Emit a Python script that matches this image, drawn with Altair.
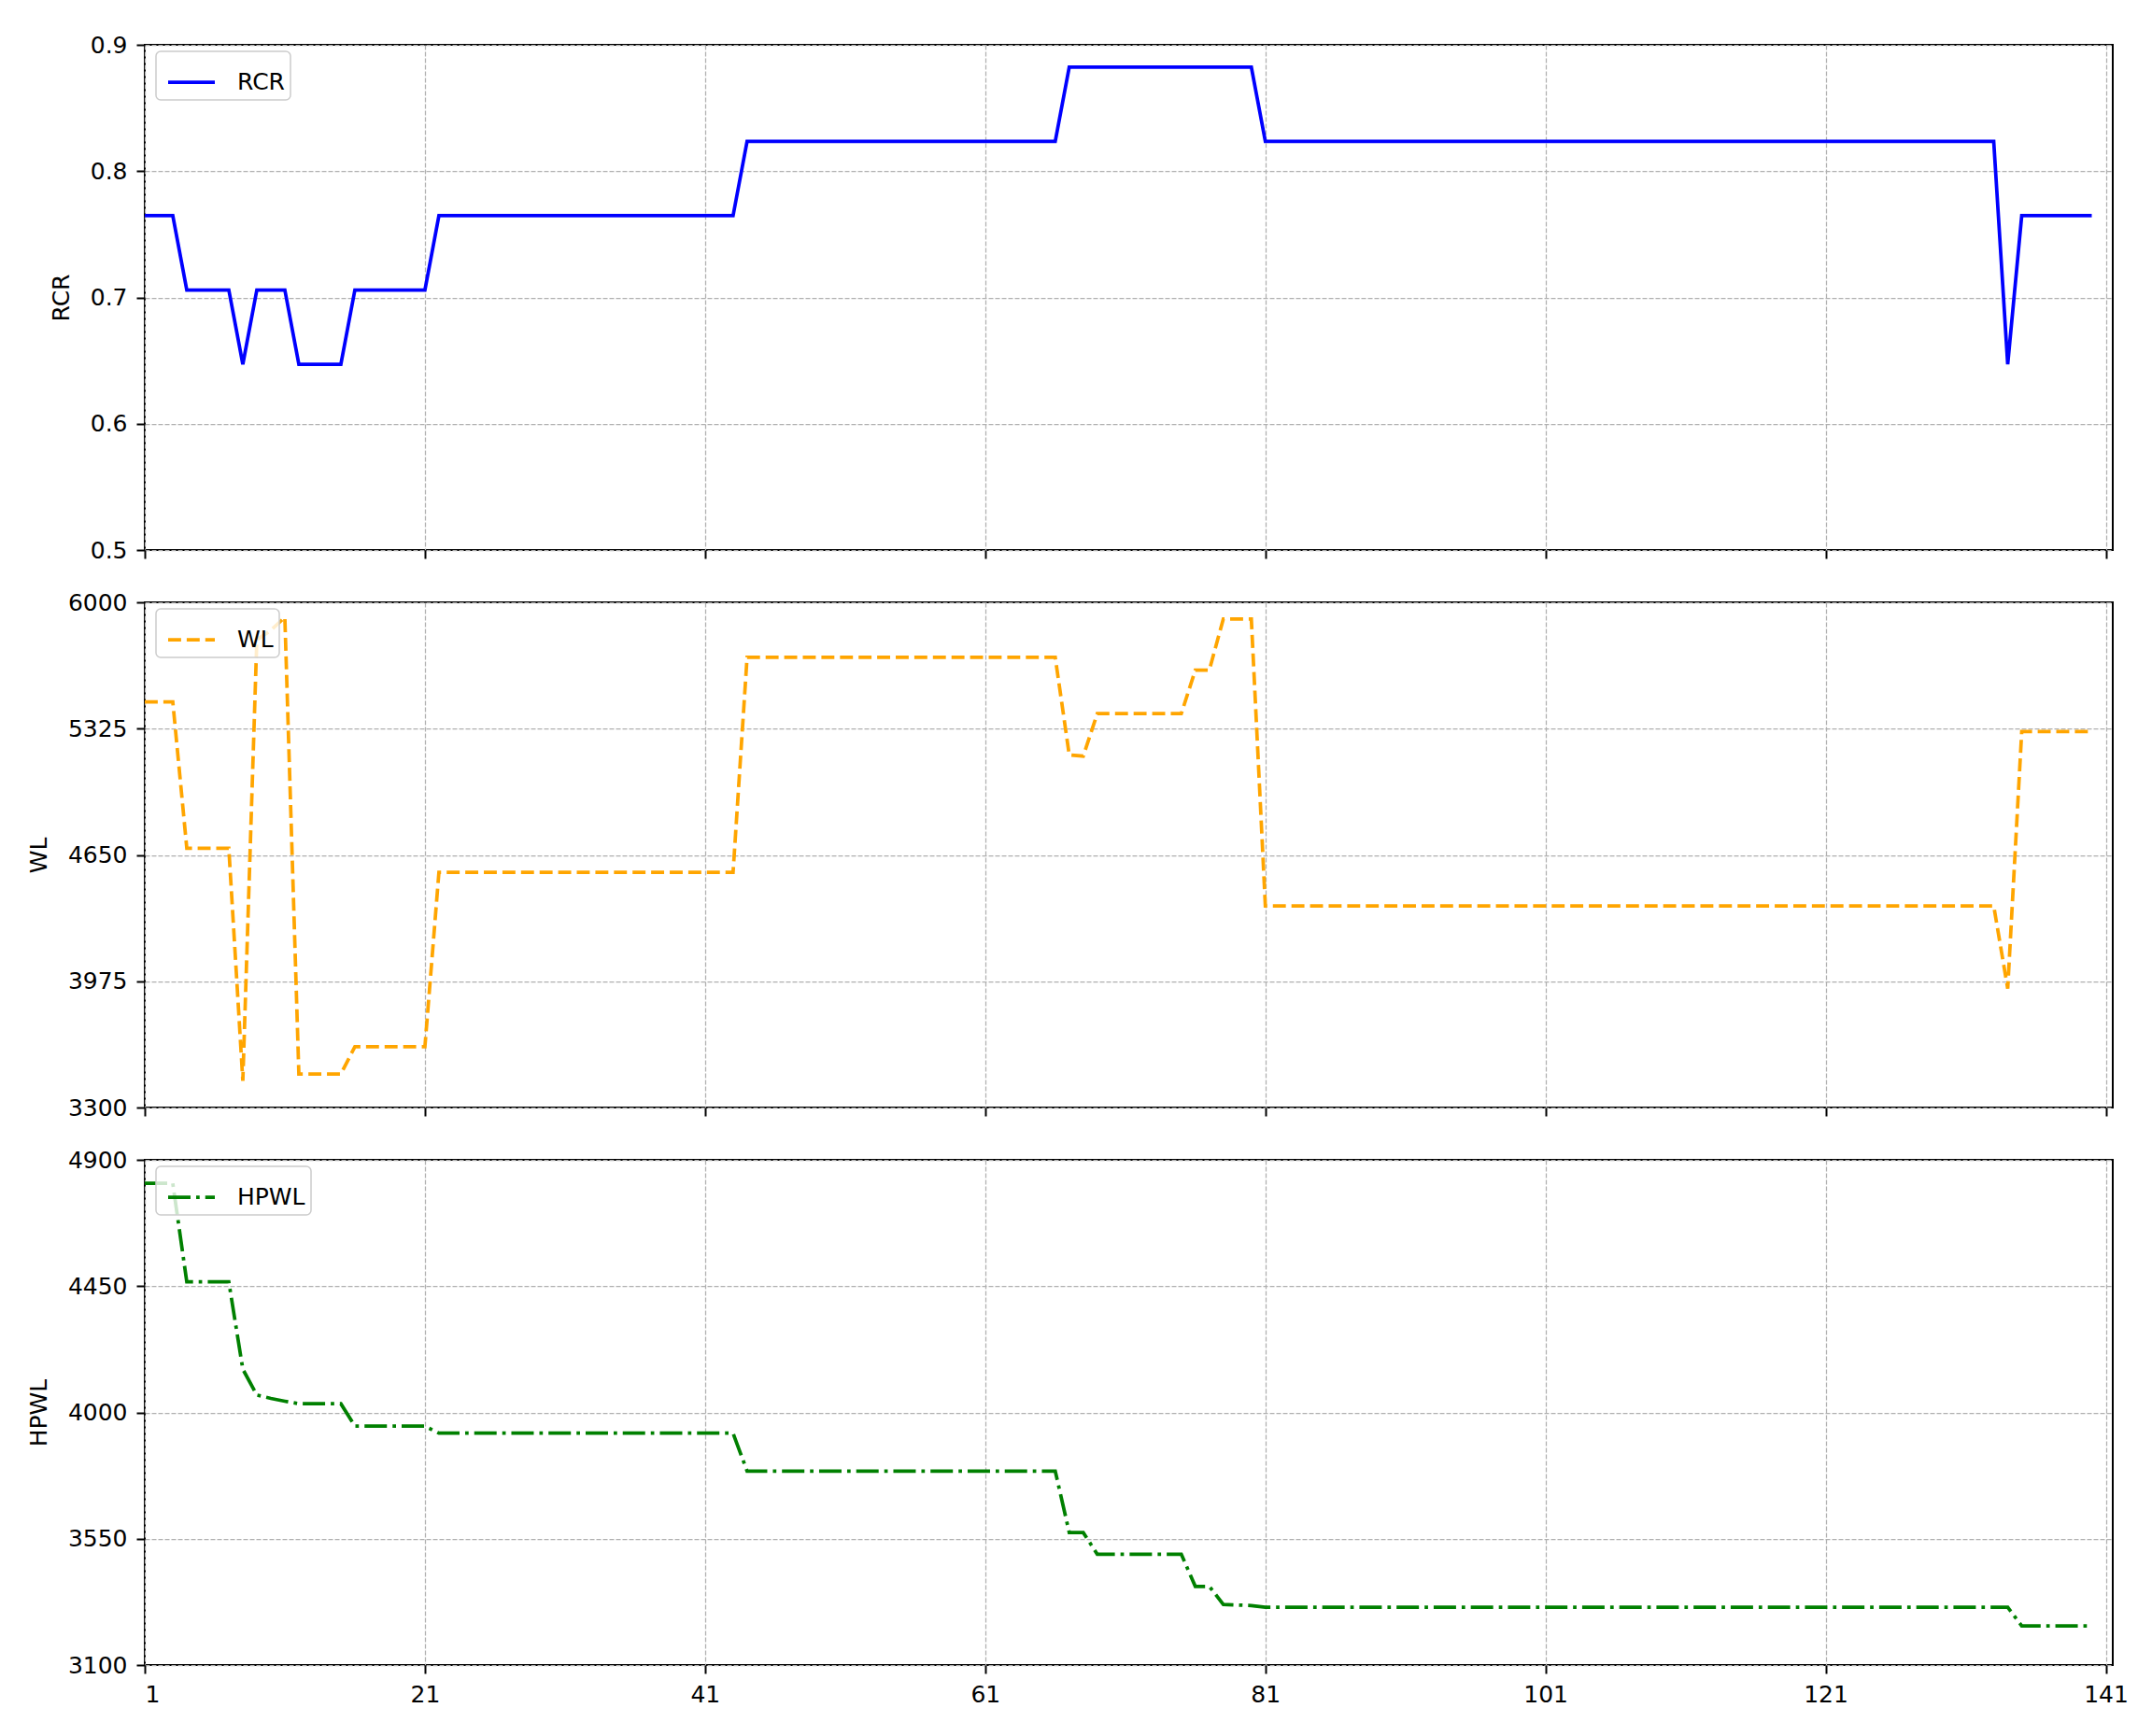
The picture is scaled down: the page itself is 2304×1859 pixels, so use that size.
import altair as alt
import pandas as pd

FONT = "DejaVu Sans"

# iteration index (x)
iters = list(range(1, 141))

# RCR series
rcr = [
    0.7647, 0.7647, 0.7647, 0.7059, 0.7059, 0.7059, 0.7059, 0.6471, 0.7059, 0.7059,
    0.7059, 0.6471, 0.6471, 0.6471, 0.6471, 0.7059, 0.7059, 0.7059, 0.7059, 0.7059,
    0.7059, 0.7647, 0.7647, 0.7647, 0.7647, 0.7647, 0.7647, 0.7647, 0.7647, 0.7647,
    0.7647, 0.7647, 0.7647, 0.7647, 0.7647, 0.7647, 0.7647, 0.7647, 0.7647, 0.7647,
    0.7647, 0.7647, 0.7647, 0.8235, 0.8235, 0.8235, 0.8235, 0.8235, 0.8235, 0.8235,
    0.8235, 0.8235, 0.8235, 0.8235, 0.8235, 0.8235, 0.8235, 0.8235, 0.8235, 0.8235,
    0.8235, 0.8235, 0.8235, 0.8235, 0.8235, 0.8235, 0.8824, 0.8824, 0.8824, 0.8824,
    0.8824, 0.8824, 0.8824, 0.8824, 0.8824, 0.8824, 0.8824, 0.8824, 0.8824, 0.8824,
    0.8235, 0.8235, 0.8235, 0.8235, 0.8235, 0.8235, 0.8235, 0.8235, 0.8235, 0.8235,
    0.8235, 0.8235, 0.8235, 0.8235, 0.8235, 0.8235, 0.8235, 0.8235, 0.8235, 0.8235,
    0.8235, 0.8235, 0.8235, 0.8235, 0.8235, 0.8235, 0.8235, 0.8235, 0.8235, 0.8235,
    0.8235, 0.8235, 0.8235, 0.8235, 0.8235, 0.8235, 0.8235, 0.8235, 0.8235, 0.8235,
    0.8235, 0.8235, 0.8235, 0.8235, 0.8235, 0.8235, 0.8235, 0.8235, 0.8235, 0.8235,
    0.8235, 0.8235, 0.8235, 0.6471, 0.7647, 0.7647, 0.7647, 0.7647, 0.7647, 0.7647,
]

# WL series
wl = [
    5468, 5468, 5468, 4686, 4686, 4686, 4686, 3443, 5800, 5850,
    5920, 3479, 3479, 3479, 3479, 3625, 3625, 3625, 3625, 3625,
    3625, 4557, 4557, 4557, 4557, 4557, 4557, 4557, 4557, 4557,
    4557, 4557, 4557, 4557, 4557, 4557, 4557, 4557, 4557, 4557,
    4557, 4557, 4557, 5706, 5706, 5706, 5706, 5706, 5706, 5706,
    5706, 5706, 5706, 5706, 5706, 5706, 5706, 5706, 5706, 5706,
    5706, 5706, 5706, 5706, 5706, 5706, 5185, 5178, 5405, 5405,
    5405, 5405, 5405, 5405, 5405, 5638, 5638, 5911, 5911, 5911,
    4378, 4378, 4378, 4378, 4378, 4378, 4378, 4378, 4378, 4378,
    4378, 4378, 4378, 4378, 4378, 4378, 4378, 4378, 4378, 4378,
    4378, 4378, 4378, 4378, 4378, 4378, 4378, 4378, 4378, 4378,
    4378, 4378, 4378, 4378, 4378, 4378, 4378, 4378, 4378, 4378,
    4378, 4378, 4378, 4378, 4378, 4378, 4378, 4378, 4378, 4378,
    4378, 4378, 4378, 3936, 5309, 5309, 5309, 5309, 5309, 5309,
]

# HPWL series
hpwl = [
    4816, 4816, 4816, 4465, 4465, 4465, 4465, 4154, 4062, 4050,
    4040, 4031, 4031, 4031, 4031, 3951, 3951, 3951, 3951, 3951,
    3951, 3926, 3926, 3926, 3926, 3926, 3926, 3926, 3926, 3926,
    3926, 3926, 3926, 3926, 3926, 3926, 3926, 3926, 3926, 3926,
    3926, 3926, 3926, 3791, 3791, 3791, 3791, 3791, 3791, 3791,
    3791, 3791, 3791, 3791, 3791, 3791, 3791, 3791, 3791, 3791,
    3791, 3791, 3791, 3791, 3791, 3791, 3572, 3572, 3495, 3495,
    3495, 3495, 3495, 3495, 3495, 3380, 3380, 3316, 3314, 3312,
    3306, 3306, 3306, 3306, 3306, 3306, 3306, 3306, 3306, 3306,
    3306, 3306, 3306, 3306, 3306, 3306, 3306, 3306, 3306, 3306,
    3306, 3306, 3306, 3306, 3306, 3306, 3306, 3306, 3306, 3306,
    3306, 3306, 3306, 3306, 3306, 3306, 3306, 3306, 3306, 3306,
    3306, 3306, 3306, 3306, 3306, 3306, 3306, 3306, 3306, 3306,
    3306, 3306, 3306, 3306, 3239, 3239, 3239, 3239, 3239, 3239,
]

x_ticks = [1, 21, 41, 61, 81, 101, 121, 141]
rcr_ticks = [0.5, 0.6, 0.7, 0.8, 0.9]
wl_ticks = [3300, 3975, 4650, 5325, 6000]
hpwl_ticks = [3100, 3550, 4000, 4450, 4900]

W, H = 2107, 541
LW = 3.75


def panel(values, name, color, dash, ydomain, yticks, yfmt, show_x_labels):
    df = pd.DataFrame({"iter": iters, "val": values, "series": [name] * len(iters)})
    mark_kwargs = dict(strokeWidth=LW, clip=True)
    legend_kwargs = dict(
        title=None, orient="none", legendX=12, legendY=7,
        symbolType="stroke", symbolSize=2500, symbolStrokeWidth=LW,
        symbolStrokeColor=color, symbolOffset=5,
        labelExpr="datum.label + '  '",
    )
    if dash:
        mark_kwargs["strokeDash"] = dash
        legend_kwargs["symbolDash"] = dash
    return alt.Chart(df).mark_line(**mark_kwargs).encode(
        x=alt.X(
            "iter:Q",
            scale=alt.Scale(domain=[1, 141.5], nice=False, zero=False),
            axis=alt.Axis(values=x_ticks, labels=show_x_labels, title=None, grid=True),
        ),
        y=alt.Y(
            "val:Q",
            scale=alt.Scale(domain=ydomain, nice=False, zero=False),
            axis=alt.Axis(values=yticks, format=yfmt, title=name, grid=True),
        ),
        color=alt.Color(
            "series:N",
            scale=alt.Scale(domain=[name], range=[color]),
            legend=alt.Legend(**legend_kwargs),
        ),
    ).properties(width=W, height=H)


p1 = panel(rcr, "RCR", "#0000ff", None, [0.5, 0.9], rcr_ticks, ".1f", False)
p2 = panel(wl, "WL", "#ffa500", [13.9, 6.0], [3300, 6000], wl_ticks, "d", False)
p3 = panel(hpwl, "HPWL", "#008000", [24.0, 6.0, 3.75, 6.0], [3100, 4900], hpwl_ticks, "d", True)

chart = (
    alt.vconcat(p1, p2, p3, spacing=56, bounds="flush")
    .resolve_scale(color="independent", y="independent")
    .resolve_legend(color="independent")
    .properties(padding={"left": 20, "top": 27, "right": 4, "bottom": 8}, background="white")
    .configure_view(stroke="black", strokeWidth=2)
    .configure_axis(
        labelFont=FONT, labelFontSize=25, labelColor="black",
        titleFont=FONT, titleFontSize=25, titleFontWeight="normal", titleColor="black",
        tickColor="black", tickWidth=2, tickSize=9, domain=False,
        labelPadding=10, titlePadding=18,
        gridColor="#b0b0b0", gridDash=[5, 2], gridWidth=1.25,
    )
    .configure_legend(
        labelFont=FONT, labelFontSize=25, labelColor="black",
        fillColor="rgba(255,255,255,0.8)", strokeColor="#cccccc", strokeWidth=1.5,
        cornerRadius=5, padding=6, labelOffset=22,
    )
)

chart.save("out.html", embed_options={"renderer": "svg", "actions": False})
